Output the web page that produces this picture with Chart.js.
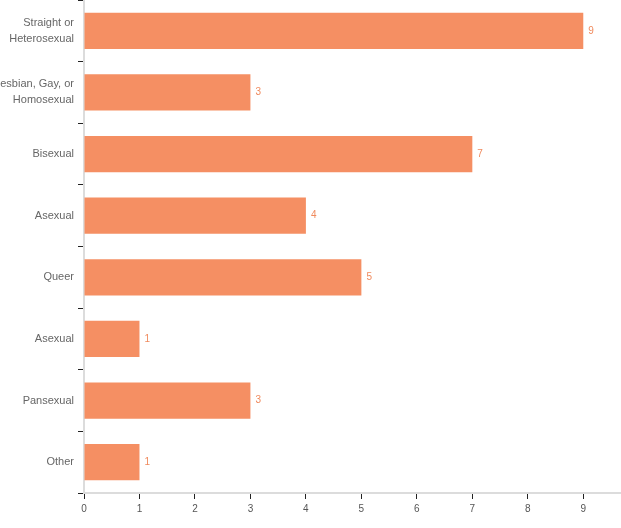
<!DOCTYPE html>
<html>
<head>
<meta charset="utf-8">
<script src="https://cdn.jsdelivr.net/npm/chart.js@4"></script>
<style>
html,body{margin:0;padding:0;background:#fff;}
#wrap{width:621px;height:528px;position:relative;}
</style>
</head>
<body>
<div id="wrap"><canvas id="c" width="621" height="528"></canvas></div>
<script>
const categories = [
  ["Straight or", "Heterosexual"],
  ["Lesbian, Gay, or", "Homosexual"],
  "Bisexual",
  "Asexual",
  "Queer",
  "Asexual",
  "Pansexual",
  "Other"
];
const values = [9, 3, 7, 4, 5, 1, 3, 1];
const xTickValues = [0, 1, 2, 3, 4, 5, 6, 7, 8, 9];

const barColor = '#F58F63';
const labelColor = '#F08A5D';
const fontFamily = '"Liberation Sans", Arial, sans-serif';

const valueLabels = {
  id: 'valueLabels',
  afterDatasetsDraw(chart) {
    const ctx = chart.ctx;
    const meta = chart.getDatasetMeta(0);
    ctx.save();
    ctx.font = '10px ' + fontFamily;
    ctx.fillStyle = labelColor;
    ctx.textAlign = 'left';
    ctx.textBaseline = 'middle';
    meta.data.forEach((bar, i) => {
      ctx.fillText(String(values[i]), bar.x + 5, bar.y);
    });
    ctx.restore();
  }
};

new Chart(document.getElementById('c'), {
  type: 'bar',
  data: {
    labels: categories,
    datasets: [{
      data: values,
      backgroundColor: barColor,
      borderWidth: 0,
      categoryPercentage: 0.59,
      barPercentage: 1.0
    }]
  },
  plugins: [valueLabels],
  options: {
    indexAxis: 'y',
    responsive: false,
    animation: false,
    layout: { padding: 0 },
    plugins: { legend: { display: false }, tooltip: { enabled: false } },
    scales: {
      x: {
        min: 0,
        max: 9.68,
        afterBuildTicks(scale) {
          scale.ticks = xTickValues.map(v => ({ value: v }));
        },
        afterFit(scale) { scale.height = 35; scale.paddingRight = 0; scale.paddingLeft = 0; },
        border: { display: true, color: '#dcdcdc', width: 2 },
        grid: {
          drawOnChartArea: false,
          drawTicks: true,
          tickLength: 6,
          tickColor: '#222',
          tickWidth: 1
        },
        ticks: {
          color: '#555',
          font: { family: fontFamily, size: 10 },
          padding: 4,
          autoSkip: false,
          maxRotation: 0
        }
      },
      y: {
        offset: true,
        afterFit(scale) { scale.width = 84; scale.paddingTop = 0; scale.paddingBottom = 0; },
        border: { display: true, color: '#dcdcdc', width: 2 },
        grid: {
          offset: true,
          drawOnChartArea: false,
          drawTicks: true,
          tickLength: 6,
          tickColor: '#222',
          tickWidth: 1
        },
        ticks: {
          color: '#666',
          font: { family: fontFamily, size: 11, lineHeight: 1.45 },
          padding: 4,
          autoSkip: false
        }
      }
    }
  }
});
</script>
</body>
</html>
